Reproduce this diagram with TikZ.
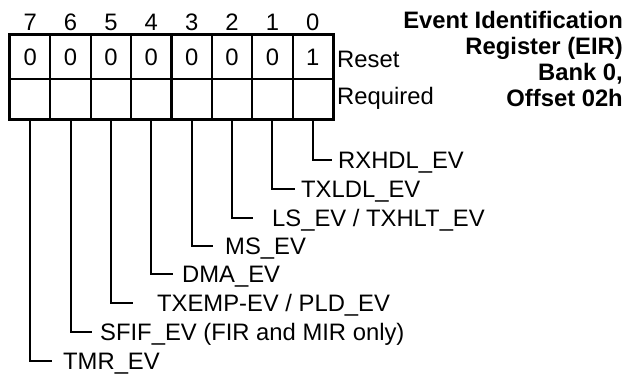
\documentclass[tikz,border=0pt]{standalone}
\usepackage{fontspec}
\setmainfont{Liberation Sans}
\newcommand\figfont{\fontsize{23.8}{26}\selectfont}
\begin{document}
\begin{tikzpicture}[x=1pt,y=-1pt,
  cell/.style={draw, line width=2.2pt, minimum width=40.375pt, inner sep=0pt, anchor=center, font=\figfont},
  toprow/.style={cell, minimum height=44pt},
  botrow/.style={cell, minimum height=40pt},
  txt/.style={inner sep=0pt, font=\figfont},
  ttl/.style={inner sep=0pt, anchor=base east, font=\figfont\bfseries},
  lead/.style={line width=2pt},
  frame/.style={line width=2.7pt}]
\useasboundingbox (0,0) rectangle (628,378);
% bit numbers and cells
\foreach \b in {0,...,7}{
  \pgfmathsetmacro\xc{10+40.375*(7.5-\b)}
  \node[txt, anchor=base] (n\b) at (\xc,30) {\b};
  \node[botrow] (q\b) at (\xc,99) {};
}
\foreach \b in {1,...,7}{
  \pgfmathsetmacro\xc{10+40.375*(7.5-\b)}
  \node[toprow] (r\b) at (\xc,57) {0};
}
\node[toprow] (r0) at ({10+40.375*7.5},57) {1};
\draw[frame] (r7.north west) rectangle (q0.south east);
% row labels
\node[txt, anchor=base west] (reset) at (337,67) {Reset};
\node[txt, anchor=base west] (req) at (337,104) {Required};
% title
\node[ttl] (t1) at (623,28) {Event Identification};
\node[ttl] (t2) at (623,54) {Register (EIR)};
\node[ttl] (t3) at (623,80) {Bank 0,};
\node[ttl] (t4) at (623,106) {Offset 02h};
% leaders
\coordinate (c0) at (332,160);
\coordinate (c1) at (295,189);
\coordinate (c2) at (253,218);
\coordinate (c3) at (213,246);
\coordinate (c4) at (173,274);
\coordinate (c5) at (133,303);
\coordinate (c6) at (92,332);
\coordinate (c7) at (52,361);
\foreach \b in {0,...,7}{
  \draw[lead] (q\b.south) |- (c\b);
}
\node[txt, anchor=base west] (l0) at (338,168) {RXHDL\_EV};
\node[txt, anchor=base west] (l1) at (301,197) {TXLDL\_EV};
\node[txt, anchor=base west] (l2) at (272,226) {LS\_EV / TXHLT\_EV};
\node[txt, anchor=base west] (l3) at (225,254) {MS\_EV};
\node[txt, anchor=base west] (l4) at (182,282) {DMA\_EV};
\node[txt, anchor=base west] (l5) at (157,311) {TXEMP-EV / PLD\_EV};
\node[txt, anchor=base west] (l6) at (100,340) {SFIF\_EV (FIR and MIR only)};
\node[txt, anchor=base west] (l7) at (63,369) {TMR\_EV};
\end{tikzpicture}
\end{document}
